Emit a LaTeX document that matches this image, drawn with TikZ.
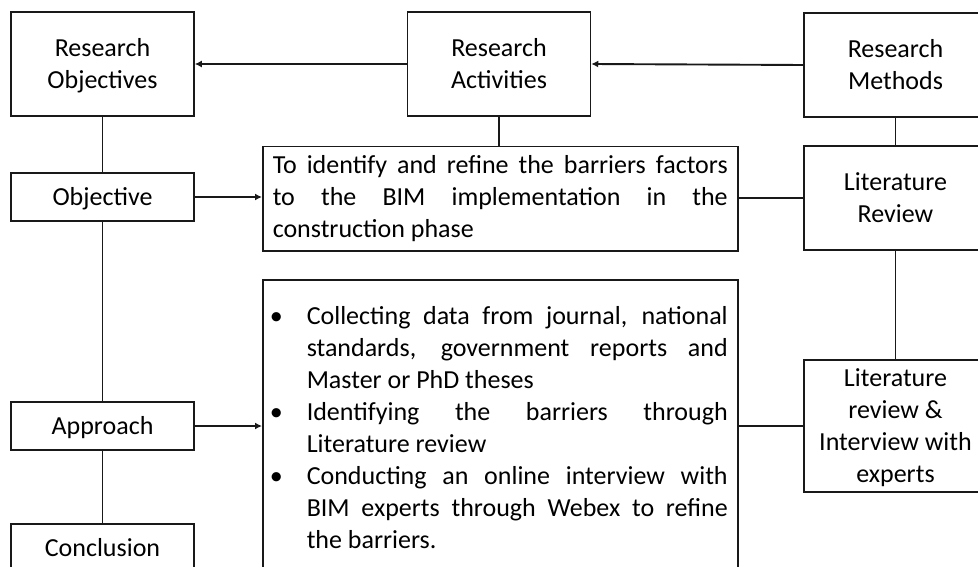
\documentclass[tikz,border=0pt]{standalone}
\usepackage{fontspec}
\setmainfont{Carlito}
\usetikzlibrary{arrows.meta}
\definecolor{edge}{RGB}{25,25,25}
% invisible struts that fix the first-line height and last-line depth
\newcommand{\toprl}{\rule{0pt}{24pt}}
\newcommand{\botrl}{\rule[-7.2pt]{0pt}{7.2pt}}
\newcommand{\bul}{\makebox[34pt][l]{\hspace{-3pt}•}}
\newcommand{\ind}{\hspace*{34pt}}
\begin{document}
\begin{tikzpicture}[x=1pt,y=-1pt,
  box/.style={draw=edge,line width=1.5pt,inner sep=0pt,align=center,
    font=\fontsize{26pt}{32pt}\selectfont},
  sidebox/.style={box,minimum width=183pt},
  textbox/.style={box,anchor=north west,text width=455pt,inner xsep=10pt,align=justify},
  link/.style={draw=edge,line width=1.9pt},
  arrowlink/.style={link,-{Latex[length=7pt,width=7pt]}}]
\path[use as bounding box] (0,0) rectangle (978,567);
\clip (0,0) rectangle (978,567);

% left column
\node[sidebox,minimum height=104pt] (ro) at (102.5,64) {\toprl Research\\Objectives\botrl};
\node[sidebox,minimum height=48pt] (obj) at (102.5,197) {\toprl Objective\botrl};
\node[sidebox,minimum height=48pt] (app) at (102.5,426) {\toprl Approach\botrl};
\node[sidebox,minimum height=48pt] (conc) at (102.5,548) {\toprl Conclusion\botrl};

% middle column
\node[sidebox,minimum height=104pt] (ra) at (499,64) {\toprl Research\\Activities\botrl};
\node[textbox,minimum height=104pt] (tb) at (262,146)
  {\spaceskip=0pt\xspaceskip=0pt\relax
   \makebox[455pt][s]{To identify and refine the barriers factors}\\
   \makebox[455pt][s]{to the BIM implementation in the}\\
   construction phase};
\node[textbox,inner ysep=22pt] (bb) at (262,279)
  {\spaceskip=0pt\xspaceskip=0pt\relax
   \strut\bul\makebox[421pt][s]{Collecting data from journal, national}\\
   \ind\makebox[421pt][s]{standards, government reports and}\\
   \ind Master or PhD theses\\
   \bul\makebox[421pt][s]{Identifying the barriers through}\\
   \ind Literature review\\
   \bul\makebox[421pt][s]{Conducting an online interview with}\\
   \ind\makebox[421pt][s]{BIM experts through Webex to refine}\\
   \ind the barriers.\strut};

% right column
\node[sidebox,minimum height=104pt] (rm) at (895.5,65) {\toprl Research\\Methods\botrl};
\node[sidebox,minimum height=104pt] (lr) at (895.5,198) {\toprl Literature\\Review\botrl};
\node[sidebox,minimum height=132pt] (li) at (895.5,426)
  {\toprl Literature\\review \&\\Interview with\\experts\botrl};

% connectors
\draw[arrowlink] (ra.west) -- (ro.east);
\draw[arrowlink] (rm.west) -- (ra.east);
\draw[link] (ro.south) -- (obj.north);
\draw[link] (obj.south) -- (app.north);
\draw[link] (app.south) -- (conc.north);
\draw[arrowlink] (obj.east) -- (obj.east -| tb.west);
\draw[link] (ra.south) -- (tb.north -| ra.south);
\draw[link] (rm.south) -- (lr.north);
\draw[link] (lr.west) -- (lr.west -| tb.east);
\draw[link] (lr.south) -- (li.north);
\draw[arrowlink] (app.east) -- (app.east -| bb.west);
\draw[link] (li.west) -- (li.west -| bb.east);
\end{tikzpicture}
\end{document}
